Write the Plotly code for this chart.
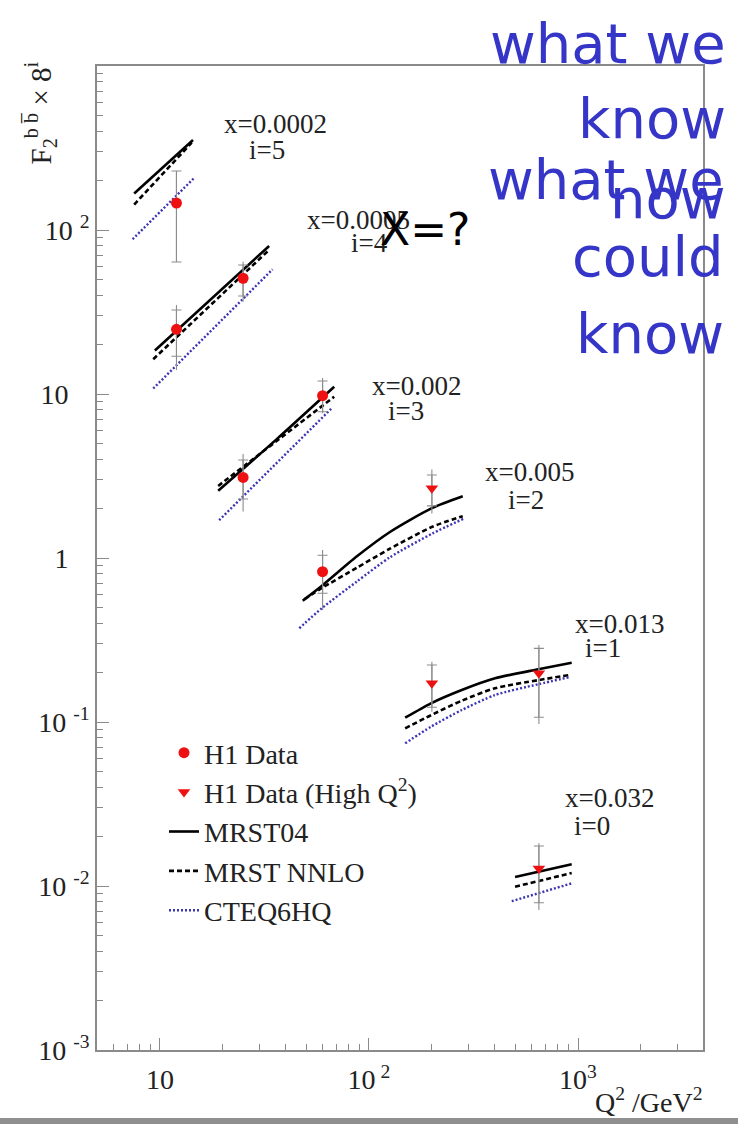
import plotly.graph_objects as go

# ---- H1 measurements (Q^2 in GeV^2, F2^bb x 8^i) ----
h1_q2 = [12, 12, 25, 25, 60, 60]
h1_f2 = [146, 24.8, 50.8, 3.1, 9.76, 0.825]
h1_stat_hi = [229, 32.5, 61.2, 3.96, 12.0, 1.04]
h1_stat_lo = [63.8, 17.0, 39.6, 2.29, 7.80, 0.609]
h1_tot_hi = [229, 34.9, 64.1, 4.31, 12.5, 1.12]
h1_tot_lo = [63.8, 14.0, 36.5, 1.92, 7.63, 0.482]

hq_q2 = [200, 200, 650, 650]
hq_f2 = [2.66, 0.172, 0.198, 0.0128]
hq_stat_hi = [3.21, 0.2227, 0.281, 0.01754]
hq_stat_lo = [2.08, 0.123, 0.107, 0.0079]
hq_tot_hi = [3.47, 0.233, 0.295, 0.0182]
hq_tot_lo = [1.87, 0.1156, 0.0972, 0.00714]

# ---- theory predictions, one segment per x bin (i = 5 .. 0) ----
mrst04_q2 = [[7.53, 14.4], [9.46, 33.3], [19.0, 36.1, 68.2],
             [48.2, 59.4, 87.3, 126, 201, 281],
             [149, 198, 278, 401, 646, 933], [500, 933]]
mrst04_f2 = [[167, 354], [18.4, 79.9], [2.57, 5.29, 11.08],
             [0.549, 0.675, 1.02, 1.44, 2.02, 2.38],
             [0.1062, 0.130, 0.1567, 0.1847, 0.2096, 0.230], [0.01135, 0.01356]]

nnlo_q2 = [[7.53, 14.2], [9.29, 33.0], [19.0, 68.2],
           [49.0, 59.4, 87.3, 126, 201, 281],
           [149, 198, 278, 401, 646, 915], [500, 933]]
nnlo_f2 = [[143, 341], [16.3, 74.8], [2.75, 9.63],
           [0.560, 0.655, 0.870, 1.14, 1.55, 1.80],
           [0.0915, 0.110, 0.1349, 0.1605, 0.180, 0.1935], [0.0099, 0.0120]]

cteq_q2 = [[7.40, 14.6], [9.29, 34.6], [19.2, 66.3],
           [46.4, 59.4, 87.3, 126, 201, 285],
           [149, 198, 278, 401, 646, 915], [482, 933]]
cteq_f2 = [[87.8, 208], [10.8, 57.6], [1.70, 8.18],
           [0.373, 0.493, 0.717, 1.01, 1.41, 1.74],
           [0.0741, 0.0936, 0.1183, 0.146, 0.170, 0.188], [0.00808, 0.01038]]

bin_x_labels = ["x=0.0002", "x=0.0005", "x=0.002", "x=0.005", "x=0.013", "x=0.032"]
bin_i_labels = ["i=5", "i=4", "i=3", "i=2", "i=1", "i=0"]

note_known = ["what we", "know", "now"]
note_could = ["what we", "could", "know"]

# ---- page geometry (pixels) ----
W, H = 738, 1127
L, R, T, B = 97, 703, 66, 1050
SERIF = "Liberation Serif, Times New Roman, serif"
HAND = "DejaVu Sans, sans-serif"
INK = "#222222"
AXIS = "#8a8a8a"


def px(x):
    return (x - L) / (R - L)


def py(y):
    return (B - y) / (B - T)


def join(segs):
    out = []
    for k, s in enumerate(segs):
        if k:
            out.append(None)
        out.extend(s)
    return out


fig = go.Figure()

# theory curves
fig.add_trace(go.Scatter(x=join(mrst04_q2), y=join(mrst04_f2), mode="lines",
                         name="MRST04", legendrank=3,
                         line=dict(color="black", width=2.6,
                                   shape="spline", smoothing=0.7)))
fig.add_trace(go.Scatter(x=join(nnlo_q2), y=join(nnlo_f2), mode="lines",
                         name="MRST NNLO", legendrank=4,
                         line=dict(color="black", width=2.6, dash="5px,3px",
                                   shape="spline", smoothing=0.7)))
fig.add_trace(go.Scatter(x=join(cteq_q2), y=join(cteq_f2), mode="lines",
                         name="CTEQ6HQ", legendrank=5,
                         line=dict(color="#3b35b5", width=2.4, dash="2px,2px",
                                   shape="spline", smoothing=0.7)))

# total-error extent (plain vertical line)
for xs, ys, hi, lo in [(h1_q2, h1_f2, h1_tot_hi, h1_tot_lo),
                       (hq_q2, hq_f2, hq_tot_hi, hq_tot_lo)]:
    fig.add_trace(go.Scatter(
        x=xs, y=ys, mode="markers", showlegend=False, hoverinfo="skip",
        marker=dict(size=1, color="rgba(0,0,0,0)"),
        error_y=dict(type="data", symmetric=False,
                     array=[h - v for h, v in zip(hi, ys)],
                     arrayminus=[v - l for v, l in zip(ys, lo)],
                     color="#8c8c8c", thickness=1.1, width=0)))

# data points with statistical-error ticks
fig.add_trace(go.Scatter(
    x=h1_q2, y=h1_f2, mode="markers", name="H1 Data", legendrank=1,
    marker=dict(symbol="circle", size=11, color="#ee1111"),
    error_y=dict(type="data", symmetric=False,
                 array=[h - v for h, v in zip(h1_stat_hi, h1_f2)],
                 arrayminus=[v - l for v, l in zip(h1_f2, h1_stat_lo)],
                 color="#8c8c8c", thickness=1.1, width=5)))
fig.add_trace(go.Scatter(
    x=hq_q2, y=hq_f2, mode="markers", name="H1 Data (High Q<sup>2</sup>)",
    legendrank=2,
    marker=dict(symbol="triangle-down", size=11, color="#ee1111"),
    error_y=dict(type="data", symmetric=False,
                 array=[h - v for h, v in zip(hq_stat_hi, hq_f2)],
                 arrayminus=[v - l for v, l in zip(hq_f2, hq_stat_lo)],
                 color="#8c8c8c", thickness=1.1, width=5)))

minor_vals = [m * 10 ** k for k in range(-3, 4) for m in range(2, 10)]
ghost = '<span style="color:rgba(0,0,0,0)"><sup> -1</sup></span>'

fig.update_xaxes(
    type="log", range=[0.699, 3.598],
    tickmode="array", tickvals=[10, 100, 1000],
    ticktext=["10", "10<sup> 2</sup>", "10<sup>3</sup>"],
    ticks="inside", ticklen=12, tickwidth=1, tickcolor=AXIS,
    ticklabelstandoff=4,
    minor=dict(tickmode="array", tickvals=minor_vals, ticks="inside",
               ticklen=6, tickcolor=AXIS, showgrid=False),
    showline=True, linecolor=AXIS, linewidth=1.5, mirror=True,
    showgrid=False, zeroline=False,
    tickfont=dict(family=SERIF, size=28, color=INK))
fig.update_yaxes(
    type="log", range=[-3, 3],
    tickmode="array", tickvals=[0.001, 0.01, 0.1, 1, 10, 100],
    ticktext=["10 <sup>-3</sup>", "10 <sup>-2</sup>", "10 <sup>-1</sup>",
              "1" + ghost, "10" + ghost, "10 <sup>2</sup>"],
    ticks="inside", ticklen=12, tickwidth=1, tickcolor=AXIS,
    minor=dict(tickmode="array", tickvals=minor_vals, ticks="inside",
               ticklen=6, tickcolor=AXIS, showgrid=False),
    showline=True, linecolor=AXIS, linewidth=1.5, mirror=True,
    showgrid=False, zeroline=False,
    tickfont=dict(family=SERIF, size=28, color=INK))

ann = []
# bin labels
xlab_pos = [(222, 124), (305, 220), (370, 386), (483, 472), (573, 624), (563, 798)]
ilab_pos = [(247, 150), (349, 243), (386, 411), (506, 500), (583, 648), (572, 826)]
for t, (x, y) in zip(bin_x_labels, xlab_pos):
    ann.append(dict(text=t, x=px(x), y=py(y), xanchor="left", yanchor="middle"))
for t, (x, y) in zip(bin_i_labels, ilab_pos):
    ann.append(dict(text=t, x=px(x), y=py(y), xanchor="left", yanchor="middle"))
for a in ann:
    a.update(xref="paper", yref="paper", showarrow=False,
             font=dict(family=SERIF, size=27, color=INK))

# axis titles
ann.append(dict(text="F<sub>2</sub><sup>b b\u0305</sup> \u00d7 8<sup>i</sup>",
                textangle=-90, x=px(40), y=py(60), xanchor="center", yanchor="top",
                xref="paper", yref="paper", showarrow=False,
                font=dict(family=SERIF, size=29, color=INK)))
ann.append(dict(text="Q<sup>2</sup> /GeV<sup>2</sup>",
                x=px(704), y=py(1100), xanchor="right", yanchor="middle",
                xref="paper", yref="paper", showarrow=False,
                font=dict(family=SERIF, size=28, color=INK)))

# handwritten notes
for t, yc in zip(note_known, [44, 119, 198]):
    ann.append(dict(text=t, x=px(728), y=py(yc), xanchor="right", yanchor="middle",
                    xref="paper", yref="paper", showarrow=False,
                    font=dict(family=HAND, size=56, color="#3535c8")))
for t, yc in zip(note_could, [179, 256, 333]):
    ann.append(dict(text=t, x=px(726), y=py(yc), xanchor="right", yanchor="middle",
                    xref="paper", yref="paper", showarrow=False,
                    font=dict(family=HAND, size=56, color="#3535c8")))
ann.append(dict(text="X=?", x=px(378), y=py(230), xanchor="left", yanchor="middle",
                xref="paper", yref="paper", showarrow=False,
                font=dict(family=HAND, size=44, color="black")))

fig.update_layout(
    width=W, height=H,
    margin=dict(l=L, r=W - R, t=T, b=H - B, pad=0),
    paper_bgcolor="white", plot_bgcolor="white",
    annotations=ann,
    showlegend=True,
    legend=dict(x=px(164), y=py(728), xanchor="left", yanchor="top",
                bgcolor="rgba(0,0,0,0)", borderwidth=0,
                font=dict(family=SERIF, size=28, color=INK),
                tracegroupgap=0),
    shapes=[dict(type="line", xref="paper", yref="paper",
                 x0=px(-5), x1=px(745), y0=py(1121), y1=py(1121),
                 line=dict(color="#8f8f8f", width=6))],
)

fig.write_html("out.html")
